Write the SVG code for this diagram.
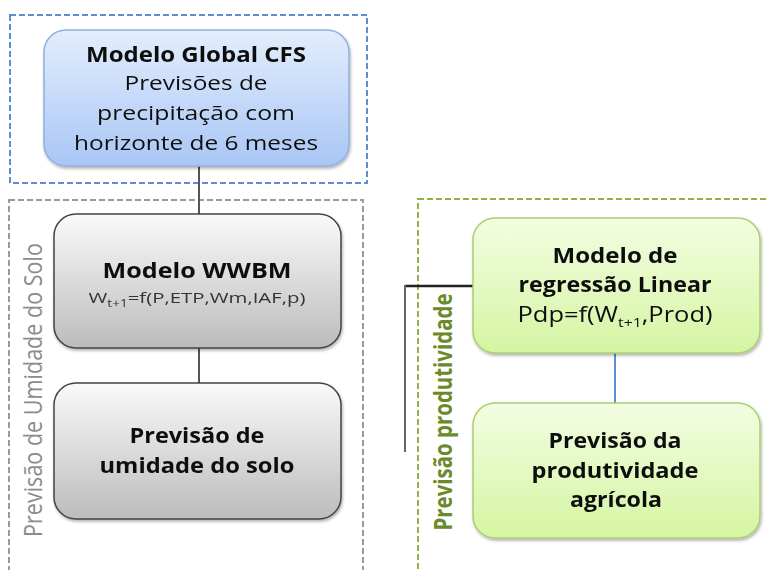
<svg xmlns="http://www.w3.org/2000/svg" width="767" height="570" viewBox="0 0 767 570">
<defs>
<linearGradient id="gBlue" x1="0" y1="0" x2="0" y2="1"><stop offset="0" stop-color="#e3eefd"/><stop offset="1" stop-color="#a9c6f5"/></linearGradient>
<linearGradient id="gGray" x1="0" y1="0" x2="0" y2="1"><stop offset="0" stop-color="#fafafa"/><stop offset="1" stop-color="#bcbcbc"/></linearGradient>
<linearGradient id="gGreen" x1="0" y1="0" x2="0" y2="1"><stop offset="0" stop-color="#f3fde2"/><stop offset="1" stop-color="#d5f5a2"/></linearGradient>
<filter id="sh" x="-5%" y="-5%" width="115%" height="120%"><feDropShadow dx="1" dy="2" stdDeviation="1.5" flood-color="#000" flood-opacity="0.3"/></filter>
</defs>
<style>
text{font-family:"Open Sans","Liberation Sans",sans-serif;fill:#111;text-anchor:middle}
.b{font-weight:bold}
.dash{fill:none;stroke-width:2;stroke-dasharray:6 3}
.node{filter:url(#sh)}
</style>
<rect width="767" height="570" fill="#fff"/>
<!-- containers -->
<g id="containers">
<rect class="dash" x="10" y="15" width="357" height="168" stroke="#5b8fd0"/>
<rect class="dash" x="9" y="200" width="354" height="390" stroke="#9a9a9a"/>
<rect class="dash" x="418" y="199" width="380" height="390" stroke="#90b048"/>
<text transform="translate(42,390) rotate(-90)" font-size="26" style="fill:#8c8c8c" textLength="294" lengthAdjust="spacingAndGlyphs">Previsão de Umidade do Solo</text>
<text class="b" transform="translate(452,412) rotate(-90)" font-size="25" style="fill:#6b8a2a" textLength="237" lengthAdjust="spacingAndGlyphs">Previsão produtividade</text>
</g>
<!-- connectors -->
<g id="connectors" fill="none" stroke-width="2">
<line x1="199" y1="166" x2="199" y2="214" stroke="#555"/>
<line x1="199" y1="348" x2="199" y2="383" stroke="#555"/>
<line x1="615" y1="353" x2="615" y2="403" stroke="#5b8fd0"/>
<line x1="405" y1="286" x2="473" y2="286" stroke="#222" stroke-width="2.5"/>
<line x1="405" y1="285" x2="405" y2="452" stroke="#666"/>
</g>
<g id="node-cfs" class="node">
<rect x="44" y="30" width="305" height="136" rx="22" fill="url(#gBlue)" stroke="#8fb0e0" stroke-width="1.5"/>
<text class="b" x="196" y="62" font-size="22" textLength="220" lengthAdjust="spacingAndGlyphs">Modelo Global CFS</text>
<text x="196" y="90" font-size="20" textLength="143" lengthAdjust="spacingAndGlyphs">Previsões de</text>
<text x="196" y="120" font-size="20" textLength="198" lengthAdjust="spacingAndGlyphs">precipitação com</text>
<text x="196" y="150" font-size="20" textLength="244" lengthAdjust="spacingAndGlyphs">horizonte de 6 meses</text>
</g>
<g id="node-wwbm" class="node">
<rect x="54" y="214" width="287" height="134" rx="22" fill="url(#gGray)" stroke="#444" stroke-width="1.5"/>
<text class="b" x="197" y="278" font-size="22" textLength="189" lengthAdjust="spacingAndGlyphs">Modelo WWBM</text>
<text x="197" y="303" font-size="15" textLength="217" lengthAdjust="spacingAndGlyphs" style="fill:#333">W<tspan font-size="10" dy="4">t+1</tspan><tspan dy="-4">=f(P,ETP,Wm,IAF,p)</tspan></text>
</g>
<g id="node-umidade" class="node">
<rect x="54" y="383" width="287" height="136" rx="22" fill="url(#gGray)" stroke="#444" stroke-width="1.5"/>
<text class="b" x="197" y="443" font-size="21" textLength="135" lengthAdjust="spacingAndGlyphs">Previsão de</text>
<text class="b" x="197" y="473" font-size="21" textLength="195" lengthAdjust="spacingAndGlyphs">umidade do solo</text>
</g>
<g id="node-regressao" class="node">
<rect x="473" y="218" width="287" height="135" rx="22" fill="url(#gGreen)" stroke="#a8d070" stroke-width="1.5"/>
<text class="b" x="615" y="263" font-size="21" textLength="125" lengthAdjust="spacingAndGlyphs">Modelo de</text>
<text class="b" x="615" y="292" font-size="21" textLength="193" lengthAdjust="spacingAndGlyphs">regressão Linear</text>
<text x="615" y="322" font-size="21" textLength="195" lengthAdjust="spacingAndGlyphs">Pdp=f(W<tspan font-size="13" dy="5">t+1</tspan><tspan dy="-5">,Prod)</tspan></text>
</g>
<g id="node-produtividade" class="node">
<rect x="473" y="403" width="287" height="135" rx="22" fill="url(#gGreen)" stroke="#a8d070" stroke-width="1.5"/>
<text class="b" x="615" y="448" font-size="21" textLength="133" lengthAdjust="spacingAndGlyphs">Previsão da</text>
<text class="b" x="615" y="478" font-size="21" textLength="167" lengthAdjust="spacingAndGlyphs">produtividade</text>
<text class="b" x="616" y="507" font-size="21" textLength="92" lengthAdjust="spacingAndGlyphs">agrícola</text>
</g>
</svg>
